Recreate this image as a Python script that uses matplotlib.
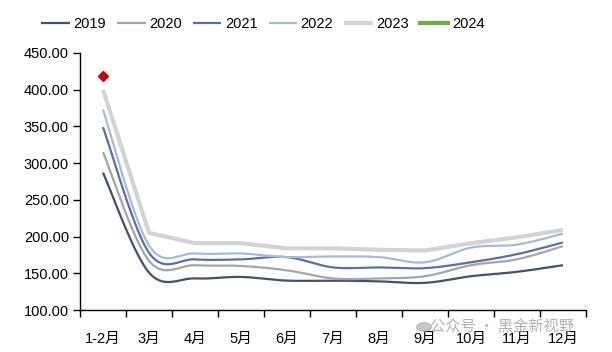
import numpy as np
import matplotlib
matplotlib.use("Agg")
import matplotlib.pyplot as plt
from matplotlib.ticker import FixedLocator, FormatStrFormatter

plt.rcParams['font.family'] = ['Liberation Sans', 'Noto Sans CJK SC', 'DejaVu Sans']

months = ['1-2月', '3月', '4月', '5月', '6月', '7月', '8月', '9月', '10月', '11月', '12月']
v2019 = [287, 151, 143, 145, 140, 140, 139, 137, 146, 152, 161]
v2020 = [315, 167, 161, 160, 154, 143, 143, 146, 161, 169, 187]
v2021 = [349, 178, 169, 169, 172, 158, 158, 157, 165, 176, 192]
v2022 = [373, 188, 177, 177, 172, 173, 172, 165, 185, 189, 204]
v2023 = [400, 205, 191, 191, 184, 184, 182, 181, 191, 199, 209]
v2024 = [418]

series = [
    ('2019', v2019, '#44506e', 1.6, True),
    ('2020', v2020, '#a5a5a5', 1.6, True),
    ('2021', v2021, '#5b6fa6', 1.6, True),
    ('2022', v2022, '#abbad4', 1.6, True),
    ('2023', v2023, '#d3d3d3', 3.0, False),
]


def smooth(xs, ys, n=30):
    xs = np.asarray(xs, float)
    ys = np.asarray(ys, float)
    P = np.column_stack([xs, ys])
    out = [P[0]]
    for i in range(len(P) - 1):
        p0 = P[i - 1] if i > 0 else P[i]
        p1 = P[i]
        p2 = P[i + 1]
        p3 = P[i + 2] if i + 2 < len(P) else P[i + 1]
        c1 = p1 + (p2 - p0) / 6.0
        c2 = p2 - (p3 - p1) / 6.0
        t = np.linspace(0, 1, n)[1:, None]
        b = ((1 - t) ** 3) * p1 + 3 * ((1 - t) ** 2) * t * c1 + 3 * (1 - t) * t ** 2 * c2 + t ** 3 * p2
        out.extend(b)
    out = np.array(out)
    return out[:, 0], out[:, 1]


fig = plt.figure(figsize=(6.12, 3.52), dpi=100)
ax = fig.add_axes([80 / 612, 1 - 310 / 352, (586 - 80) / 612, (310 - 53) / 352])

x = np.arange(len(months))
for name, vals, col, lw, sm in series:
    if sm:
        sx, sy = smooth(x[:len(vals)], vals)
    else:
        sx, sy = x[:len(vals)], vals
    ax.plot(sx, sy, color=col, lw=lw, label=name, solid_capstyle='butt')

ax.plot(x[:len(v2024)], v2024, color='#70ad47', lw=3.0, label='2024')
ax.plot(x[:len(v2024)], v2024, linestyle='none', marker='D', markersize=5,
        color='#c00000')

ax.set_xlim(-0.5, len(months) - 0.5)
ax.set_ylim(100, 450)
ax.set_yticks(np.arange(100, 451, 50))
ax.yaxis.set_major_formatter(FormatStrFormatter('%.2f'))
ax.set_xticks(x)
ax.set_xticklabels(months)
ax.xaxis.set_minor_locator(FixedLocator(np.arange(-0.5, len(months), 1.0)))
ax.tick_params(axis='x', which='major', length=0, pad=16, labelsize=10.5)
ax.tick_params(axis='x', which='minor', length=5, width=1, direction='out')
ax.tick_params(axis='y', which='major', length=5, width=1, direction='out', pad=3, labelsize=10.5)
for s in ['top', 'right']:
    ax.spines[s].set_visible(False)
for s in ['left', 'bottom']:
    ax.spines[s].set_color('black')
    ax.spines[s].set_linewidth(1)

fig.legend(loc='center', bbox_to_anchor=(263 / 612, 1 - 24 / 352), ncol=6,
           frameon=False, fontsize=10.5, handlelength=1.95, handletextpad=0.25,
           columnspacing=0.75)

fig.text(430 / 612, 1 - 327 / 352, '公众号 · 黑金新视野', fontsize=11,
         color='#9a9a9a', alpha=0.75, va='center', ha='left',
         family=['Noto Sans CJK SC', 'DejaVu Sans'])
fig.patches.append(matplotlib.patches.Circle((424 / 612, 1 - 327 / 352), 0.012,
                   transform=fig.transFigure, color='#b0b0b0', alpha=0.7))

fig.savefig('out.png', dpi=100)
